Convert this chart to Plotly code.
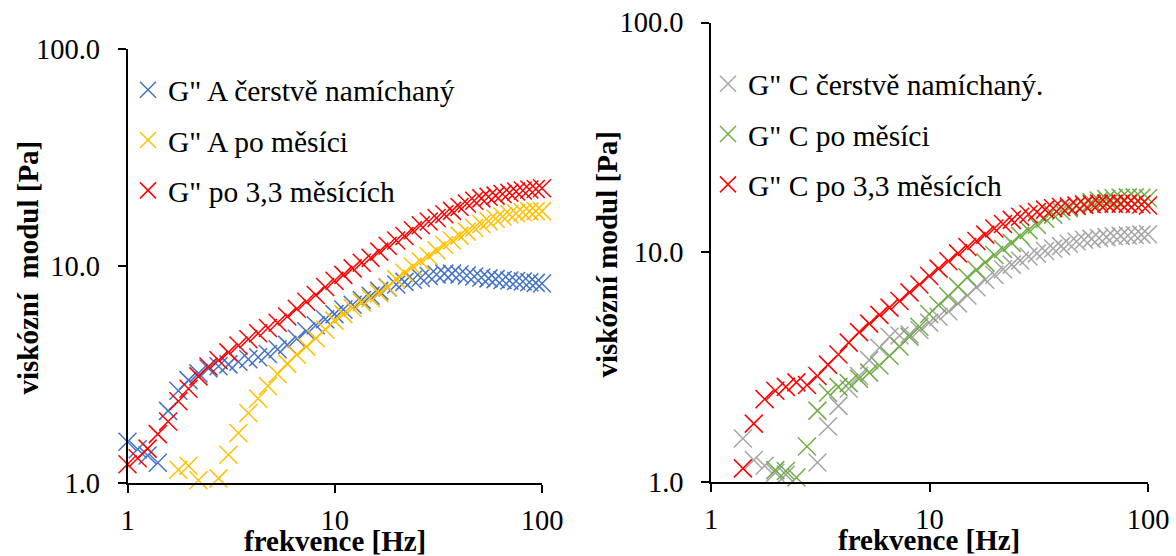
import plotly.graph_objects as go

# Frequency sweep points [Hz]
freq_hz = [1.00, 1.12, 1.25, 1.40, 1.57, 1.76, 1.97, 2.20, 2.46, 2.75,
           3.07, 3.43, 3.83, 4.27, 4.76, 5.30, 5.90, 6.56, 7.29, 8.10,
           8.99, 9.97, 11.0, 12.2, 13.5, 14.9, 16.4, 18.0, 19.8, 21.7,
           23.8, 26.0, 28.4, 31.0, 33.8, 36.8, 40.0, 43.4, 47.1, 51.0,
           55.2, 59.7, 64.5, 69.6, 75.0, 80.8, 86.9, 93.3, 100.0]

# Sample A – loss modulus G'' [Pa]
a_fresh = [1.55, 1.43, 1.34, 1.24, 2.15, 2.66, 2.98, 3.20, 3.37, 3.45,
           3.52, 3.62, 3.72, 3.80, 3.93, 4.13, 4.33, 4.62, 5.00, 5.33,
           5.68, 6.00, 6.30, 6.63, 6.97, 7.30, 7.68, 7.97, 8.22, 8.45,
           8.65, 8.82, 9.00, 9.13, 9.22, 9.22, 9.14, 9.05, 8.95, 8.85,
           8.77, 8.70, 8.62, 8.57, 8.53, 8.48, 8.42, 8.36, 8.30]
a_month = [None, None, None, None, None, 1.15, 1.20, 1.03, None, 1.05,
           1.35, 1.70, 2.10, 2.45, 2.80, 3.18, 3.55, 3.90, 4.25, 4.65,
           5.10, 5.60, 6.00, 6.40, 6.80, 7.10, 7.50, 8.00, 8.70, 9.30,
           9.95, 10.5, 11.1, 11.8, 12.5, 13.1, 13.8, 14.4, 15.0, 15.6,
           16.1, 16.5, 16.9, 17.3, 17.5, 17.7, 17.85, 17.9, 17.9]
a_33months = [1.22, 1.30, 1.44, 1.68, 1.92, 2.38, 2.72, 3.10, 3.44, 3.68,
              4.00, 4.30, 4.60, 4.90, 5.18, 5.48, 5.85, 6.35, 6.85, 7.35,
              8.00, 8.55, 9.10, 9.75, 10.35, 10.9, 11.65, 12.4, 13.1, 13.75,
              14.6, 15.4, 16.05, 16.65, 17.3, 17.95, 18.7, 19.4, 20.0, 20.5,
              20.85, 21.1, 21.45, 21.75, 22.05, 22.3, 22.5, 22.65, 22.8]

# Sample C – loss modulus G'' [Pa]
c_fresh = [None, None, None, 1.55, 1.25, 1.18, 1.10, 1.08, None, None,
           1.22, 1.75, 2.15, 2.55, 2.90, 3.40, 3.85, 4.30, 4.35, 4.40,
           4.60, 4.95, 5.25, 5.55, 6.00, 6.50, 7.05, 7.60, 8.00, 8.45,
           8.85, 9.22, 9.60, 9.90, 10.15, 10.4, 10.65, 10.9, 11.15, 11.35,
           11.45, 11.55, 11.65, 11.75, 11.8, 11.85, 11.9, 11.95, 12.0]
c_month = [None, None, None, None, None, None, 1.13, 1.12, 1.05, 1.43,
           2.05, 2.45, 2.60, 2.70, 2.82, 3.00, 3.22, 3.55, 3.90, 4.30,
           4.75, 5.40, 5.90, 6.45, 7.10, 7.80, 8.40, 9.05, 9.75, 10.35,
           11.0, 11.8, 12.5, 13.2, 14.0, 14.6, 15.15, 15.55, 15.9, 16.25,
           16.55, 16.8, 17.05, 17.2, 17.3, 17.35, 17.35, 17.3, 17.2]
c_33months = [None, None, None, 1.15, 1.80, 2.30, 2.50, 2.60, 2.72, 2.65,
              2.90, 3.25, 3.60, 4.05, 4.50, 4.90, 5.35, 5.75, 6.15, 6.70,
              7.25, 7.90, 8.50, 9.15, 9.90, 10.55, 11.2, 11.95, 12.7, 13.3,
              13.85, 14.3, 14.65, 15.0, 15.35, 15.55, 15.75, 15.85, 16.0, 16.1,
              16.2, 16.3, 16.3, 16.3, 16.3, 16.3, 16.25, 16.15, 16.0]

x_tick_vals = [1, 10, 100]
y_tick_vals = [1, 10, 100]

BLUE, GOLD, RED = "#4472C4", "#FFC000", "#FF0000"
GREY, GREEN = "#A5A5A5", "#70AD47"
FONT = "Liberation Serif"

series = [
    # (values, name, colour, x axis, y axis, legend)
    (a_fresh, 'G" A čerstvě namíchaný', BLUE, "x", "y", "legend"),
    (a_month, 'G" A po měsíci', GOLD, "x", "y", "legend"),
    (a_33months, 'G" po 3,3 měsících', RED, "x", "y", "legend"),
    (c_fresh, 'G" C čerstvě namíchaný.', GREY, "x2", "y2", "legend2"),
    (c_month, 'G" C po měsíci', GREEN, "x2", "y2", "legend2"),
    (c_33months, 'G" C po 3,3 měsících', RED, "x2", "y2", "legend2"),
]

fig = go.Figure()
for i, (vals, name, col, xa, ya, lg) in enumerate(series):
    fig.add_trace(go.Scatter(
        x=freq_hz, y=vals, name=name, mode="markers",
        xaxis=xa, yaxis=ya, legend=lg, legendgroup=f"g{i}",
        cliponaxis=False,
        marker=dict(symbol="x-thin", size=18, color=col,
                    line=dict(color=col, width=1.5)),
    ))

W, H = 1176, 556


def px_x(v):
    return v / W


def px_y(v):
    return 1 - v / H


def x_axis(domain, anchor):
    return dict(type="log", range=[0, 2], domain=domain, anchor=anchor,
                automargin=False,
                tickvals=x_tick_vals, showline=True, linecolor="black",
                linewidth=1.5, ticks="outside", ticklen=8, tickwidth=1.5,
                tickcolor="black", showgrid=False, zeroline=False,
                ticklabelstandoff=3,
                tickfont=dict(family=FONT, size=28.5, color="black"))


def y_axis(domain, anchor):
    return dict(type="log", range=[0, 2], domain=domain, anchor=anchor,
                automargin=False,
                tickvals=y_tick_vals, tickformat=".1f", showline=True,
                linecolor="black", linewidth=1.5, ticks="outside",
                ticklen=8, tickwidth=1.5, tickcolor="black",
                showgrid=False, zeroline=False, ticklabelstandoff=12,
                tickfont=dict(family=FONT, size=28.5, color="black"))


legend_style = dict(font=dict(family=FONT, size=29.5, color="black"),
                    bgcolor="rgba(0,0,0,0)", borderwidth=0,
                    tracegroupgap=9, xanchor="left", yanchor="top")

title_font = dict(family=FONT, size=29, color="black", weight="bold")

fig.update_layout(
    template="none",
    width=W, height=H,
    margin=dict(l=0, r=0, t=0, b=0, autoexpand=False),
    paper_bgcolor="white", plot_bgcolor="white",
    xaxis=x_axis([px_x(127.5), px_x(542)], "y"),
    yaxis=y_axis([px_y(483), px_y(49)], "x"),
    xaxis2=x_axis([px_x(711), px_x(1148)], "y2"),
    yaxis2=y_axis([px_y(482.3), px_y(22.5)], "x2"),
    legend=dict(legend_style, x=px_x(128), y=px_y(64)),
    legend2=dict(legend_style, x=px_x(708), y=px_y(58)),
    annotations=[
        dict(text="frekvence [Hz]", x=px_x(335), y=px_y(541),
             xref="paper", yref="paper", showarrow=False,
             xanchor="center", yanchor="middle", font=title_font),
        dict(text="frekvence [Hz]", x=px_x(929), y=px_y(540),
             xref="paper", yref="paper", showarrow=False,
             xanchor="center", yanchor="middle", font=title_font),
        dict(text="viskózní\u00a0 modul [Pa]", x=px_x(27), y=px_y(267.5),
             xref="paper", yref="paper", showarrow=False, textangle=-90,
             xanchor="center", yanchor="middle", font=title_font),
        dict(text="viskózní modul [Pa]", x=px_x(607), y=px_y(254.5),
             xref="paper", yref="paper", showarrow=False, textangle=-90,
             xanchor="center", yanchor="middle", font=title_font),
    ],
)

fig.write_html("out.html")
